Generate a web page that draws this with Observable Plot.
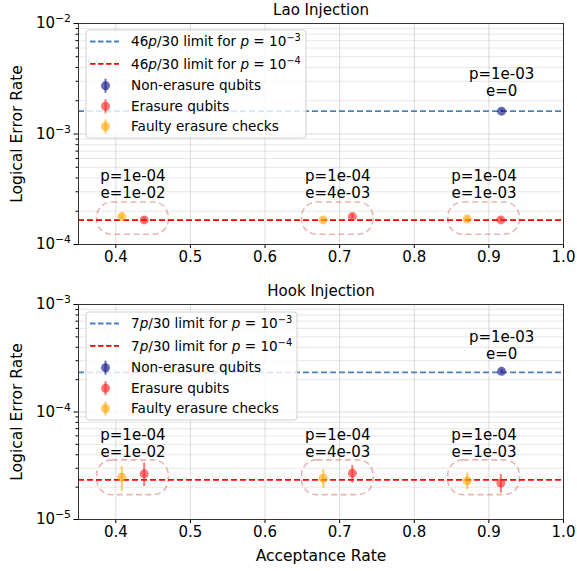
<!DOCTYPE html>
<html>
<head>
<meta charset="utf-8">
<script src="https://cdn.jsdelivr.net/npm/d3@7"></script>
<script src="https://cdn.jsdelivr.net/npm/@observablehq/plot@0.6"></script>
<style>
  html, body { margin: 0; padding: 0; background: white; }
  #chart svg { display: block; }
</style>
</head>
<body>
<div id="chart"></div>
<script>
// ---------- data ----------
const xTicks = [0.4, 0.5, 0.6, 0.7, 0.8, 0.9, 1.0];
const groupLabels = ["p=1e-04\ne=1e-02", "p=1e-04\ne=4e-03", "p=1e-04\ne=1e-03"];
const nonErasureLabel = "p=1e-03\ne=0";
const seriesNames = ["Non-erasure qubits", "Erasure qubits", "Faulty erasure checks"];

// acceptance rates
const acceptErasure = [0.438, 0.717, 0.916];
const acceptFaulty = [0.408, 0.678, 0.871];
const acceptNonErasure = 0.917;

// Lao injection
const laoTitle = "Lao Injection";
const laoFactor = "46";
const laoLimits = [1.61e-3, 1.66e-4];
const laoNonErasure = [1.61e-3, 1.57e-3, 1.65e-3]; // value, lo, hi
const laoErasure = [1.67e-4, 1.79e-4, 1.67e-4];
const laoErasureLo = [1.58e-4, 1.71e-4, 1.60e-4];
const laoErasureHi = [1.76e-4, 1.87e-4, 1.74e-4];
const laoFaulty = [1.79e-4, 1.67e-4, 1.70e-4];
const laoFaultyLo = [1.70e-4, 1.60e-4, 1.63e-4];
const laoFaultyHi = [1.88e-4, 1.74e-4, 1.77e-4];
const laoYTicks = [1e-4, 1e-3, 1e-2];

// Hook injection
const hookTitle = "Hook Injection";
const hookFactor = "7";
const hookLimits = [2.333e-4, 2.333e-5];
const hookNonErasure = [2.39e-4, 2.30e-4, 2.48e-4];
const hookErasure = [2.66e-5, 2.70e-5, 2.18e-5];
const hookErasureLo = [2.03e-5, 2.18e-5, 1.76e-5];
const hookErasureHi = [3.34e-5, 3.18e-5, 2.62e-5];
const hookFaulty = [2.47e-5, 2.42e-5, 2.29e-5];
const hookFaultyLo = [1.82e-5, 1.95e-5, 1.89e-5];
const hookFaultyHi = [3.11e-5, 2.92e-5, 2.70e-5];
const hookYTicks = [1e-5, 1e-4, 1e-3];

const xLabel = "Acceptance Rate";
const yLabel = "Logical Error Rate";

// ---------- styles ----------
const C_BLUE_LINE = "#4a82bd";
const C_RED_LINE = "#ff0000";
const C_NON = "#1a1a8c";
const C_ERA = "#ff1a1a";
const C_FAU = "#ffa500";
const FONT = "DejaVu Sans";

function minorTicks(major) {
  const out = [];
  for (let i = 0; i < major.length - 1; i++)
    for (let k = 2; k <= 9; k++) out.push(major[i] * k);
  return out;
}

function superscriptTicks(svg) {
  d3.select(svg).selectAll("text").each(function () {
    const t = this.textContent;
    const m = /^10\^(-?\d+)$/.exec(t);
    if (m) {
      const s = d3.select(this);
      s.text("");
      s.append("tspan").text("10");
      s.append("tspan").attr("dy", "-0.55em").attr("font-size", "0.72em").text(m[1].replace("-", "\u2212"));
    }
  });
}

function addLegend(svg, box, factor) {
  const g = d3.select(svg).append("g").attr("font-family", FONT).attr("font-size", 13.6)
    .attr("text-anchor", "start").attr("fill", "black");
  g.append("rect").attr("x", box.x).attr("y", box.y).attr("width", box.w).attr("height", box.h)
    .attr("rx", 3).attr("fill", "white").attr("fill-opacity", 0.8).attr("stroke", "#d0d0d0");
  const rowOff = [11.5, 33.8, 55.7, 76.2, 96.5];
  const entries = [
    { type: "line", color: C_BLUE_LINE, exp: "\u22123" },
    { type: "line", color: C_RED_LINE, exp: "\u22124" },
    { type: "pt", color: C_NON, op: 0.65, label: seriesNames[0] },
    { type: "pt", color: C_ERA, op: 0.6, label: seriesNames[1] },
    { type: "pt", color: C_FAU, op: 0.6, label: seriesNames[2] }
  ];
  entries.forEach((e, i) => {
    const cy = box.y + rowOff[i];
    if (e.type === "line") {
      g.append("line").attr("x1", box.x + 4).attr("x2", box.x + 33).attr("y1", cy).attr("y2", cy)
        .attr("stroke", e.color).attr("stroke-width", 1.8).attr("stroke-dasharray", "5.5,2.5");
      const t = g.append("text").attr("x", box.x + 45).attr("y", cy).attr("dy", "0.35em");
      t.append("tspan").text(factor);
      t.append("tspan").attr("font-style", "italic").text("p");
      t.append("tspan").text("/30 limit for ");
      t.append("tspan").attr("font-style", "italic").text("p");
      t.append("tspan").text(" = 10");
      t.append("tspan").attr("dy", "-0.5em").attr("font-size", "0.72em").text(e.exp);
    } else {
      const cx = box.x + 19.5;
      g.append("line").attr("x1", cx).attr("x2", cx).attr("y1", cy - 7).attr("y2", cy + 7)
        .attr("stroke", e.color).attr("stroke-opacity", e.op).attr("stroke-width", 2);
      g.append("circle").attr("cx", cx).attr("cy", cy).attr("r", 4.5)
        .attr("fill", e.color).attr("fill-opacity", e.op);
      g.append("text").attr("x", box.x + 45).attr("y", cy).attr("dy", "0.35em").text(e.label);
    }
  });
}

function panel(cfg) {
  const era = acceptErasure.map((x, i) => ({ x, y: cfg.erasure[i], lo: cfg.erasureLo[i], hi: cfg.erasureHi[i] }));
  const fau = acceptFaulty.map((x, i) => ({ x, y: cfg.faulty[i], lo: cfg.faultyLo[i], hi: cfg.faultyHi[i] }));
  const non = [{ x: acceptNonErasure, y: cfg.non[0], lo: cfg.non[1], hi: cfg.non[2], label: nonErasureLabel }];
  // common vertical centre of the group boxes: geometric mean of the grouped points
  const yc = Math.exp(d3.mean([...cfg.erasure, ...cfg.faulty], v => Math.log(v)));
  const groups = groupLabels.map((label, i) => ({
    label,
    cx: (acceptErasure[i] + acceptFaulty[i]) / 2,
    yc
  }));
  const f = cfg.boxFactor;
  const minor = minorTicks(cfg.yTicks);

  const svg = Plot.plot({
    width: 577,
    height: cfg.height,
    marginLeft: 78,
    marginRight: 14,
    marginTop: cfg.marginTop,
    marginBottom: cfg.marginBottom,
    style: { fontFamily: FONT, fontSize: "15px", background: "white", color: "black" },
    x: { domain: [0.35, 1.0], label: null },
    y: { type: "log", domain: [cfg.yTicks[0], cfg.yTicks[2]], label: null },
    marks: [
      Plot.gridX(xTicks, { stroke: "#b0b0b0", strokeOpacity: 0.45 }),
      Plot.gridY(minor, { stroke: "#b0b0b0", strokeOpacity: 0.3 }),
      Plot.gridY(cfg.yTicks, { stroke: "#b0b0b0", strokeOpacity: 0.45 }),
      Plot.rect(groups, {
        x1: d => d.cx - 0.048, x2: d => d.cx + 0.048,
        y1: d => d.yc / f, y2: d => d.yc * f,
        rx: 15, ry: 15,
        fill: "none", stroke: "indianred", strokeOpacity: 0.45, strokeWidth: 1.6, strokeDasharray: "6,3.5"
      }),
      Plot.ruleY([cfg.limits[0]], { stroke: C_BLUE_LINE, strokeWidth: 1.8, strokeDasharray: "6,3" }),
      Plot.ruleY([cfg.limits[1]], { stroke: C_RED_LINE, strokeWidth: 1.8, strokeDasharray: "6,3" }),
      Plot.ruleX(non, { x: "x", y1: "lo", y2: "hi", stroke: C_NON, strokeOpacity: 0.65, strokeWidth: 2 }),
      Plot.ruleX(era, { x: "x", y1: "lo", y2: "hi", stroke: C_ERA, strokeOpacity: 0.6, strokeWidth: 2 }),
      Plot.ruleX(fau, { x: "x", y1: "lo", y2: "hi", stroke: C_FAU, strokeOpacity: 0.6, strokeWidth: 2 }),
      Plot.dot(non, { x: "x", y: "y", r: 4.5, fill: C_NON, fillOpacity: 0.65 }),
      Plot.dot(era, { x: "x", y: "y", r: 4.5, fill: C_ERA, fillOpacity: 0.6 }),
      Plot.dot(fau, { x: "x", y: "y", r: 4.5, fill: C_FAU, fillOpacity: 0.6 }),
      Plot.text(groups, { x: "cx", y: d => d.yc * f, text: "label", lineAnchor: "bottom", dy: cfg.groupDy, lineHeight: 1.15, fontSize: 15, fill: "black" }),
      Plot.text(non, { x: "x", y: "y", text: "label", lineAnchor: "bottom", dy: cfg.nonDy, lineHeight: 1.15, fontSize: 15, fill: "black" }),
      Plot.axisX({ ticks: xTicks, tickFormat: d => d.toFixed(1), tickSize: 4, tickPadding: 3, label: null, fontSize: 15 }),
      Plot.axisY({ ticks: minor, tickFormat: () => "", tickSize: 2.5, label: null }),
      Plot.axisY({ ticks: cfg.yTicks, tickFormat: d => "10^" + Math.round(Math.log10(d)), tickSize: 4.5, tickPadding: 3, label: null, fontSize: 15 }),
      Plot.frame({ stroke: "#333" }),
      Plot.text([cfg.title], { frameAnchor: "top", lineAnchor: "middle", textAnchor: "middle", dy: -13, fontSize: 15, fill: "black" }),
      Plot.text([yLabel], { frameAnchor: "left", lineAnchor: "middle", textAnchor: "middle", rotate: -90, dx: -61, fontSize: 15.5, fill: "black" }),
      ...(cfg.xLabel ? [Plot.text([cfg.xLabel], { frameAnchor: "bottom", lineAnchor: "middle", textAnchor: "middle", dy: 37, fontSize: 15.5, fill: "black" })] : [])
    ]
  });
  superscriptTicks(svg);
  addLegend(svg, cfg.legend, cfg.factor);
  return svg;
}

const root = document.getElementById("chart");
root.appendChild(panel({
  title: laoTitle, factor: laoFactor, limits: laoLimits, non: laoNonErasure,
  erasure: laoErasure, erasureLo: laoErasureLo, erasureHi: laoErasureHi,
  faulty: laoFaulty, faultyLo: laoFaultyLo, faultyHi: laoFaultyHi,
  yTicks: laoYTicks, height: 282, marginTop: 23, marginBottom: 38,
  boxFactor: 1.4, groupDy: -4, nonDy: -15, legend: { x: 86, y: 30, w: 220, h: 108 }
}));
root.appendChild(panel({
  title: hookTitle, factor: hookFactor, limits: hookLimits, non: hookNonErasure,
  erasure: hookErasure, erasureLo: hookErasureLo, erasureHi: hookErasureHi,
  faulty: hookFaulty, faultyLo: hookFaultyLo, faultyHi: hookFaultyHi,
  yTicks: hookYTicks, height: 289, marginTop: 22, marginBottom: 52,
  boxFactor: 1.45, groupDy: -3, nonDy: -12, legend: { x: 86, y: 30, w: 211, h: 108 }, xLabel: xLabel
}));
</script>
</body>
</html>
